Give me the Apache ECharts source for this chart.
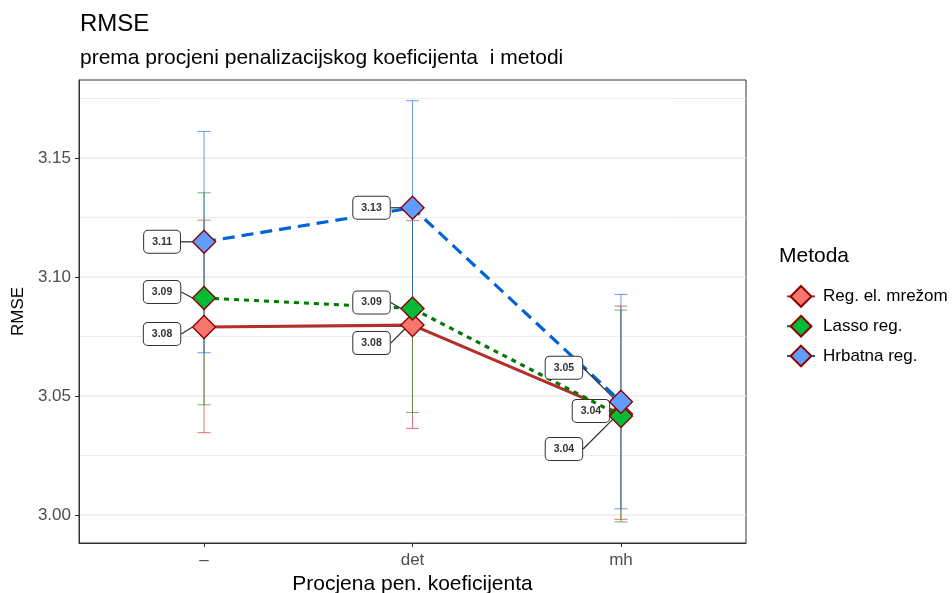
<!DOCTYPE html>
<html>
<head>
<meta charset="utf-8">
<script src="https://cdn.jsdelivr.net/npm/echarts@6/dist/echarts.min.js"></script>
<style>
html,body{margin:0;padding:0;background:#fff;}
#chart{width:952px;height:593px;}
</style>
</head>
<body>
<div id="chart"></div>
<script>
// ---- data ----
const categories = ['–', 'det', 'mh'];
const methods = ['Reg. el. mrežom', 'Lasso reg.', 'Hrbatna reg.'];

const rmseNet   = [3.0790, 3.0798, 3.0425];
const netLow    = [3.0346, 3.0364, 2.9982];
const netHigh   = [3.1239, 3.1237, 3.0878];

const rmseLasso = [3.0912, 3.0868, 3.0416];
const lassoLow  = [3.0463, 3.0431, 2.9971];
const lassoHigh = [3.1354, 3.1305, 3.0861];

const rmseRidge = [3.1148, 3.1291, 3.0476];
const ridgeLow  = [3.0682, 3.0841, 3.0026];
const ridgeHigh = [3.1612, 3.1741, 3.0927];

const yTicks = [3.00, 3.05, 3.10, 3.15];
const yMinorTicks = [3.025, 3.075, 3.125, 3.175];

// ---- styles / layout (not data) ----
const FONT = "'Liberation Sans', Arial, Helvetica, sans-serif";
const fills = ['#F8766D', '#00BA38', '#619CFF'];
const lineColors = ['#B2302A', '#007A00', '#0064D2'];
const barColors = ['#D22A2A', '#1E8C1E', '#1A66D6'];
const lineTypes = ['solid', [5, 5], [12, 7]];
const labelNudge = [
  [[-42, 7], [-41, 18], [-30, -3]],
  [[-42, -6], [-41, -6], [-57, 33]],
  [[-42, 0], [-41, 0], [-57, -34]]
];

const values = [rmseNet, rmseLasso, rmseRidge];
const lows = [netLow, lassoLow, ridgeLow];
const highs = [netHigh, lassoHigh, ridgeHigh];
const xPos = categories.map((c, i) => i + 1);

const chart = echarts.init(document.getElementById('chart'), null, {renderer: 'canvas'});

const gridSeries = {
  type: 'custom',
  silent: true,
  z: 0,
  data: yMinorTicks.map(v => [v, 0]).concat(yTicks.map(v => [v, 1])),
  encode: {},
  renderItem: function (params, api) {
    const v = api.value(0);
    const major = api.value(1);
    const cs = params.coordSys;
    const y = api.coord([1, v])[1];
    return {
      type: 'line',
      shape: {x1: cs.x, y1: y, x2: cs.x + cs.width, y2: y},
      style: {stroke: '#EBEBEB', lineWidth: major ? 1.4 : 0.9}
    };
  }
};

const errSeries = methods.map((m, k) => ({
  type: 'custom',
  silent: true,
  z: 1,
  data: xPos.map((x, i) => [x, lows[k][i], highs[k][i]]),
  encode: {x: 0, y: [1, 2]},
  renderItem: function (params, api) {
    const x = api.value(0);
    const lo = api.coord([x, api.value(1)]);
    const hi = api.coord([x, api.value(2)]);
    const hw = 6.5;
    const st = {stroke: barColors[k], lineWidth: 1, opacity: 0.65};
    return {
      type: 'group',
      children: [
        {type: 'line', shape: {x1: lo[0], y1: lo[1], x2: hi[0], y2: hi[1]}, style: st},
        {type: 'line', shape: {x1: lo[0] - hw, y1: lo[1], x2: lo[0] + hw, y2: lo[1]}, style: st},
        {type: 'line', shape: {x1: hi[0] - hw, y1: hi[1], x2: hi[0] + hw, y2: hi[1]}, style: st}
      ]
    };
  }
}));

const lineSeries = methods.map((m, k) => ({
  type: 'line',
  name: m,
  z: 3 + k,
  data: xPos.map((x, i) => [x, values[k][i]]),
  symbol: 'diamond',
  symbolSize: 23,
  showAllSymbol: true,
  lineStyle: {color: lineColors[k], width: 3.2, type: lineTypes[k]},
  itemStyle: {color: fills[k], borderColor: '#8B0000', borderWidth: 1.4},
  emphasis: {disabled: true},
  label: {
    show: true,
    position: 'inside',
    formatter: p => p.value[1].toFixed(2),
    fontFamily: FONT,
    fontSize: 10.5,
    fontWeight: 'bold',
    color: '#333',
    backgroundColor: '#fff',
    borderColor: '#333',
    borderWidth: 1,
    borderRadius: 4,
    padding: [6, 8, 5, 8]
  },
  labelLine: {show: true, lineStyle: {color: '#333', width: 1.3}},
  labelLayout: function (params) {
    const n = labelNudge[k][params.dataIndex];
    return {dx: n[0], dy: n[1]};
  }
}));

chart.setOption({
  animation: false,
  backgroundColor: '#fff',
  textStyle: {fontFamily: FONT},
  grid: {
    left: 79, top: 80, width: 667, height: 463,
    containLabel: false,
    outerBoundsMode: 'none',
    show: true, borderColor: '#333', borderWidth: 1, backgroundColor: 'transparent'
  },
  legend: {
    data: methods,
    orient: 'vertical',
    left: 781,
    top: 280,
    itemWidth: 28,
    itemHeight: 26,
    itemGap: 7,
    textStyle: {fontFamily: FONT, fontSize: 17, color: '#000', padding: [0, 0, 0, 3]},
    selectedMode: false
  },
  graphic: [
    {
      type: 'text', left: 80, top: 12,
      style: {text: 'RMSE', fontFamily: FONT, fontSize: 24, fill: '#000'}
    },
    {
      type: 'text', left: 80, top: 48,
      style: {text: 'prema procjeni penalizacijskog koeficijenta  i metodi', fontFamily: FONT, fontSize: 21, fill: '#000'}
    },
    {
      type: 'text', left: 779, top: 246,
      style: {text: 'Metoda', fontFamily: FONT, fontSize: 21, fill: '#000'}
    }
  ],
  xAxis: {
    type: 'value',
    min: 0.4,
    max: 3.6,
    name: 'Procjena pen. koeficijenta',
    nameLocation: 'middle',
    nameGap: 27,
    nameTextStyle: {fontFamily: FONT, fontSize: 21, color: '#000'},
    axisLine: {show: true, lineStyle: {color: '#333', width: 1}},
    axisTick: {show: true, length: 4, lineStyle: {color: '#333', width: 1}, customValues: xPos},
    axisLabel: {
      customValues: xPos,
      margin: 9,
      fontFamily: FONT, fontSize: 17, color: '#4D4D4D',
      formatter: v => categories[Math.round(v) - 1] || ''
    },
    splitLine: {show: false}
  },
  yAxis: {
    type: 'value',
    min: 2.98824,
    max: 3.1828,
    name: 'RMSE',
    nameLocation: 'middle',
    nameGap: 52,
    nameTextStyle: {fontFamily: FONT, fontSize: 17, color: '#000'},
    axisLine: {show: true, lineStyle: {color: '#333', width: 1}},
    axisTick: {show: true, length: 4, lineStyle: {color: '#333', width: 1}, customValues: yTicks},
    axisLabel: {
      customValues: yTicks,
      margin: 8,
      fontFamily: FONT, fontSize: 17, color: '#4D4D4D',
      formatter: v => v.toFixed(2)
    },
    splitLine: {show: false}
  },
  series: [gridSeries].concat(errSeries, lineSeries)
});
</script>
</body>
</html>
